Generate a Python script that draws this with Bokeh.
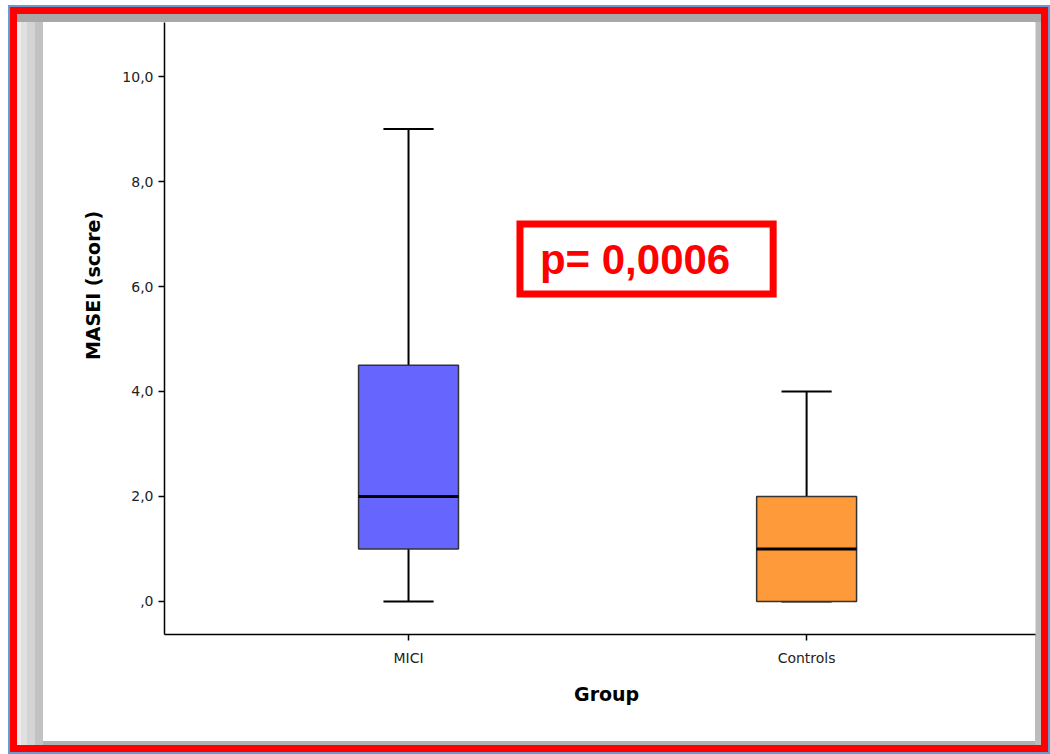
from bokeh.plotting import figure
from bokeh.models import BoxAnnotation, Label, FixedTicker, ColumnDataSource, Range1d, InlineStyleSheet
from bokeh.embed import file_html
from bokeh.resources import INLINE

# ---- data ----
groups = ["MICI", "Controls"]
lower = [0.0, 0.0]
q1 = [1.0, 0.0]
median = [2.0, 1.0]
q3 = [4.5, 2.0]
upper = [9.0, 4.0]
colors = ["#6666ff", "#ff9a3a"]
y_ticks = [0, 2, 4, 6, 8, 10]
y_tick_labels = [",0", "2,0", "4,0", "6,0", "8,0", "10,0"]
p_text = "p= 0,0006"

xpos = [i + 1 for i in range(len(groups))]
box_w = 0.251
cap_w = 0.126

src = ColumnDataSource(dict(
    x=xpos, lower=lower, q1=q1, median=median, q3=q3, upper=upper, color=colors,
    xl=[x - box_w / 2 for x in xpos], xr=[x + box_w / 2 for x in xpos],
    cl=[x - cap_w / 2 for x in xpos], cr=[x + cap_w / 2 for x in xpos],
))

W, H = 1038, 745
p = figure(width=W, height=H, output_backend="svg", toolbar_location=None,
           x_range=Range1d(0.387, 2.575), y_range=Range1d(-0.63, 11.03),
           min_border_left=147, min_border_right=20, min_border_top=8, min_border_bottom=125,
           background_fill_color="white", border_fill_color=None)
p.outline_line_color = None
p.xgrid.visible = False
p.ygrid.visible = False

css = """
:host {
  margin-left: 10px;
  margin-top: 7px;
  border: 7px solid #ff0000;
  outline: 2px solid #6a9bd0;
  background: #ffffff;
  box-shadow: inset 0 8px 0 0 #a8a8a8,
              inset 4px 0 0 0 #ececec,
              inset 10px 0 0 0 #e0e0e0,
              inset 18px 0 0 0 #d4d4d4,
              inset 26px 0 0 0 #c2c2c2,
              inset -6px 0 0 0 #bcbcbc,
              inset 0 -4px 0 0 #b0b0b0;
}
"""
p.stylesheets = [InlineStyleSheet(css=css)]

# whiskers
p.segment(x0="x", y0="q3", x1="x", y1="upper", source=src, line_color="black", line_width=2)
p.segment(x0="x", y0="q1", x1="x", y1="lower", source=src, line_color="black", line_width=2)
p.segment(x0="cl", y0="upper", x1="cr", y1="upper", source=src, line_color="black", line_width=2)
p.segment(x0="cl", y0="lower", x1="cr", y1="lower", source=src, line_color="black", line_width=2)
# boxes
p.vbar(x="x", width=box_w, bottom="q1", top="q3", source=src, fill_color="color",
       line_color="#333333", line_width=1.5)
# median
p.segment(x0="xl", y0="median", x1="xr", y1="median", source=src, line_color="black", line_width=3)

# axes
p.xaxis.ticker = FixedTicker(ticks=xpos)
p.xaxis.major_label_overrides = {x: g for x, g in zip(xpos, groups)}
p.yaxis.ticker = FixedTicker(ticks=y_ticks)
p.yaxis.major_label_overrides = {t: l for t, l in zip(y_ticks, y_tick_labels)}
for ax in (p.xaxis, p.yaxis):
    ax.axis_line_color = "black"
    ax.axis_line_width = 1.5
    ax.major_tick_line_color = "black"
    ax.major_tick_line_width = 1.5
    ax.major_tick_out = 6
    ax.major_tick_in = 0
    ax.minor_tick_line_color = None
    ax.major_label_text_font = "DejaVu Sans"
    ax.major_label_text_font_size = "14px"
    ax.major_label_text_color = "#222222"
    ax.axis_label_text_font = "DejaVu Sans"
    ax.axis_label_text_font_style = "bold"
    ax.axis_label_text_color = "black"
p.xaxis.axis_label_text_font_size = "19px"
p.yaxis.axis_label_text_font_size = "19px"
p.xaxis.axis_label = "\u00a0\u00a0Group"
p.yaxis.axis_label = "\u00a0" * 13 + "MASEI (score)"
p.xaxis.major_label_standoff = 9
p.yaxis.major_label_standoff = 5
p.xaxis.axis_label_standoff = 14
p.yaxis.axis_label_standoff = 15

# p-value annotation
p.add_layout(BoxAnnotation(left=1.280, right=1.916, bottom=5.857, top=7.190,
                           fill_color=None, fill_alpha=0, line_color="#ff0000",
                           line_alpha=1, line_width=7, line_join="miter"))
p.add_layout(Label(x=1.330, y=6.51, text=p_text, text_font="Liberation Sans",
                   text_font_style="bold", text_font_size="42px", text_color="#ff0000",
                   text_baseline="middle"))

open("out.html", "w").write(file_html(p, INLINE))
